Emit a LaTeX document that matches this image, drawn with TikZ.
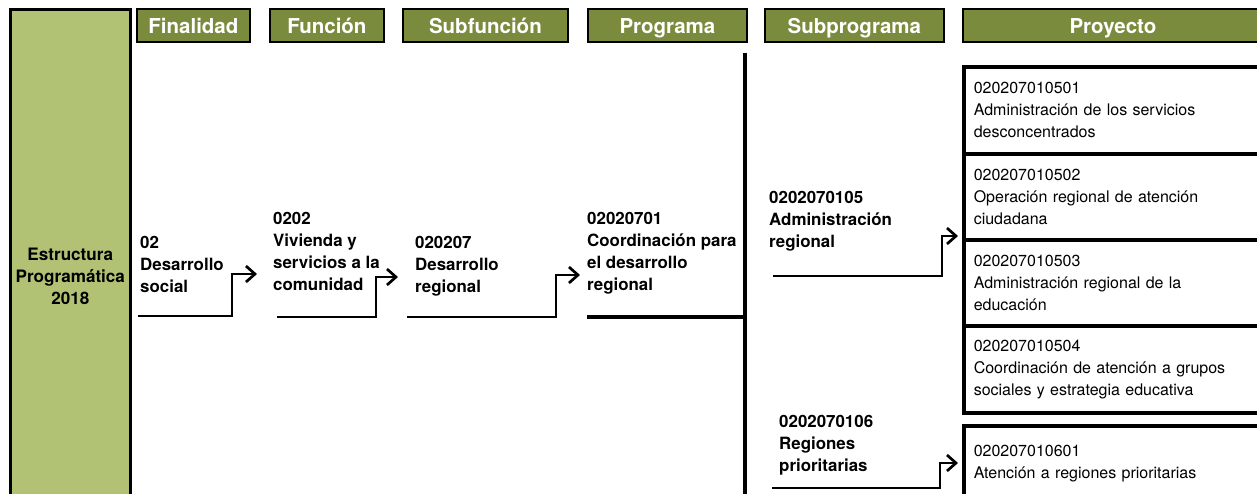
\documentclass[tikz,border=0pt]{standalone}
\usepackage{fontspec}
\setmainfont{TeX Gyre Heros}
\usetikzlibrary{arrows.meta}
\definecolor{hdrgreen}{HTML}{7B8B3D}
\definecolor{sidegreen}{HTML}{B1C274}
\begin{document}
\begin{tikzpicture}[x=1pt,y=-1pt,
  hdr/.style={draw=black,line width=1.8pt,fill=hdrgreen,text=white,
    font=\fontsize{20.5}{22}\selectfont\bfseries,anchor=north west,
    minimum height=33pt,inner sep=0pt,text height=16.5pt,text depth=0pt},
  lbl/.style={anchor=north west,inner sep=0pt,align=left,
    font=\fontsize{16.9}{22}\selectfont\bfseries},
  proj/.style={draw=black,line width=3.5pt,anchor=north west,
    minimum width=310pt,inner xsep=10pt,inner ysep=0pt,text width=290pt,
    align=left,font=\fontsize{16}{22}\selectfont},
  conn/.style={line width=2.7pt,line join=miter,
    -{Straight Barb[length=9pt,width=16pt]}},
  bar/.style={line width=3.5pt}]
\useasboundingbox (0,0) rectangle (1257,493);
\clip (0,0) rectangle (1257,493);
\fill[white] (0,0) rectangle (1257,493);

% side box
\node[draw=black,line width=2.6pt,fill=sidegreen,anchor=north west,
  minimum width=120pt,minimum height=534pt,inner sep=0pt,align=center,
  font=\fontsize{17.1}{22}\selectfont\bfseries] (side) at (9,8)
  {Estructura\\Programática\\2018};

% headers
\node[hdr,minimum width=113pt] (hfin) at (136,8) {Finalidad};
\node[hdr,minimum width=114pt] (hfun) at (269,8) {Función};
\node[hdr,minimum width=165pt] (hsub) at (402,8) {Subfunción};
\node[hdr,minimum width=159pt] (hprog) at (587,8) {Programa};
\node[hdr,minimum width=179pt] (hsp) at (764,8) {Subprograma};
\node[hdr,minimum width=300pt] (hproy) at (962,8) {Proyecto};

% labels
\node[lbl] (fin) at (140,236.5) {02\\Desarrollo\\social};
\node[lbl] (fun) at (273,212.5) {0202\\Vivienda y\\servicios a la\\comunidad};
\node[lbl] (sub) at (415,236.5) {020207\\Desarrollo\\regional};
\node[lbl] (prog) at (587,212.5) {02020701\\Coordinación para\\el desarrollo\\regional};
\node[lbl] (sp1) at (769,191.5) {0202070105\\Administración\\regional};
\node[lbl] (sp2) at (779,415) {0202070106\\Regiones\\prioritarias};

% project boxes
\node[proj,minimum height=87pt] (p1) at (962,65) {020207010501\\Administración de los servicios\\desconcentrados};
\node[proj,minimum height=86pt] (p2) at (962,152) {020207010502\\Operación regional de atención\\ciudadana};
\node[proj,minimum height=86pt] (p3) at (962,238) {020207010503\\Administración regional de la\\educación};
\node[proj,minimum height=87pt] (p4) at (962,324) {020207010504\\Coordinación de atención a grupos\\sociales y estrategia educativa};
\node[proj,minimum height=76pt] (p5) at (962,424) {020207010601\\Atención a regiones prioritarias};

% connector coordinates
\coordinate (a1s) at (138,316); \coordinate (a1c) at (232,274); \coordinate (a1e) at (257,274);
\coordinate (a2s) at (277,317); \coordinate (a2c) at (376,277); \coordinate (a2e) at (398,277);
\coordinate (a3s) at (407,317); \coordinate (a3c) at (556,275); \coordinate (a3e) at (580,275);
\coordinate (ps) at (587,317); \coordinate (pe) at (745,317);
\coordinate (vt) at (745,53); \coordinate (vb) at (745,500);
\coordinate (a4s) at (773,276); \coordinate (a4c) at (942,236); \coordinate (a4e) at (958,236);
\coordinate (a5s) at (772,488); \coordinate (a5c) at (940,463); \coordinate (a5e) at (958,463);

\draw[conn] (a1s) -| (a1c) -- (a1e);
\draw[conn] (a2s) -| (a2c) -- (a2e);
\draw[conn] (a3s) -| (a3c) -- (a3e);
\draw[bar] (ps) -- (pe);
\draw[bar] (vt) -- (vb);
\draw[conn] (a4s) -| (a4c) -- (a4e);
\draw[conn] (a5s) -| (a5c) -- (a5e);
\end{tikzpicture}
\end{document}
